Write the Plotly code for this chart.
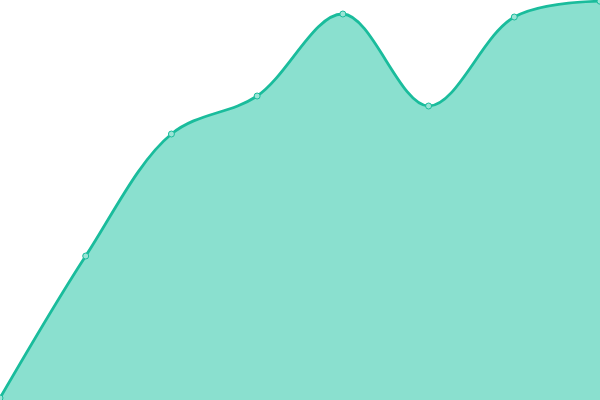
import plotly.graph_objects as go

# point index and value
x_vals = [0, 1, 2, 3, 4, 5, 6, 7]
y_vals = [0.5, 36, 66.5, 76, 96.5, 73.5, 95.75, 99.7]

line_color = "#1abc9c"
fill_color = "#8ae0cf"

fig = go.Figure(go.Scatter(
    x=x_vals,
    y=y_vals,
    mode="lines+markers",
    line=dict(color=line_color, width=2.8, shape="spline", smoothing=1),
    marker=dict(size=6, color="#9be4d6", line=dict(color=line_color, width=1)),
    fill="tozeroy",
    fillcolor=fill_color,
    hoverinfo="skip",
))

fig.update_layout(
    width=600, height=400,
    margin=dict(l=0, r=0, t=0, b=0),
    paper_bgcolor="white", plot_bgcolor="white",
    showlegend=False,
    xaxis=dict(visible=False, range=[0, 7]),
    yaxis=dict(visible=False, range=[0, 100]),
)

# drop the page's default body margin so the chart sits at the window corner
fig.write_html("out.html", post_script="document.body.style.margin='0';",
               config={"displayModeBar": False})
